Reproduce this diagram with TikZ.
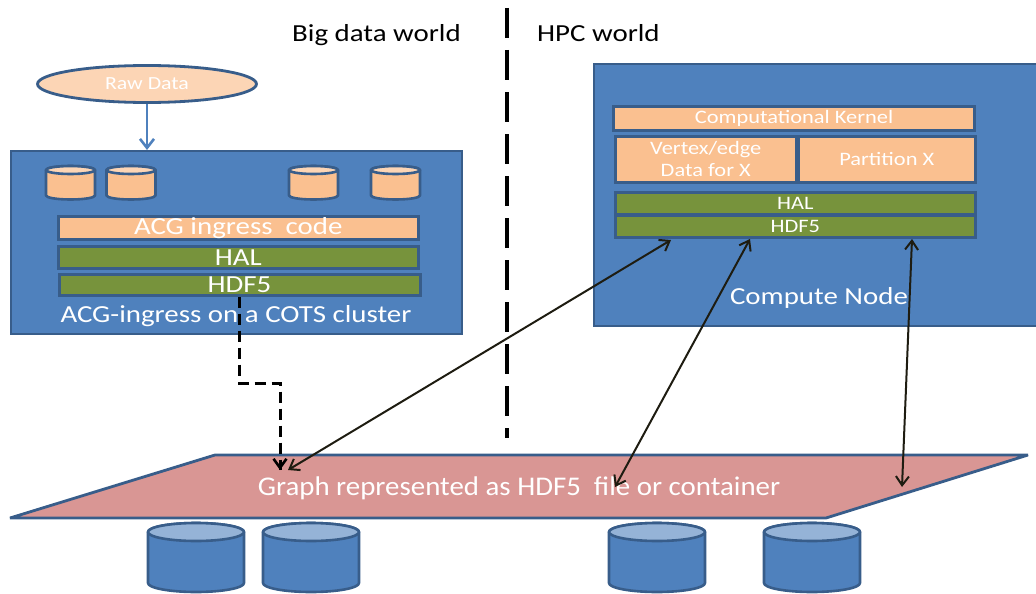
\documentclass[tikz,border=0pt]{standalone}
\usepackage{fontspec}
\setmainfont{Carlito}
\newfontfamily\wide[FakeStretch=1.18]{Carlito}
\newfontfamily\planefont[FakeStretch=1.07]{Carlito}
\usetikzlibrary{shapes.geometric,arrows.meta}
\definecolor{bluefill}{HTML}{4F81BD}
\definecolor{blueline}{HTML}{385D8A}
\definecolor{peach}{HTML}{FAC090}
\definecolor{peachlt}{HTML}{FCD5B5}
\definecolor{oliv}{HTML}{77933C}
\definecolor{rosefill}{HTML}{D99694}
\definecolor{cyltop}{HTML}{95B3D7}
\definecolor{darkline}{HTML}{1E1C11}
\tikzset{
  bigbox/.style={draw=blueline,line width=2.4pt,fill=bluefill,rectangle,anchor=north west,inner sep=0pt},
  bar/.style={draw=blueline,line width=3pt,rectangle,anchor=north west,inner sep=0pt,text=white,align=center,font=\wide\fontsize{#1}{#1}\selectfont},
  peachbar/.style={bar=#1,fill=peach},
  greenbar/.style={bar=#1,fill=oliv},
  lbl/.style={text=white,inner sep=0pt,font=\wide\fontsize{#1}{#1}\selectfont},
  drumline/.style={draw=blueline,line width=2.6pt,line join=round},
  link/.style={darkline,line width=2pt,{Straight Barb[length=9pt,width=13pt]}-{Straight Barb[length=9pt,width=13pt]}},
  head/.style={inner sep=0pt,text=black,font=\wide\fontsize{24.5}{24.5}\selectfont}
}
% \drum{name}{centre x}{top y}{half width}{height}{end half height}{body colour}{end colour}
\newcommand{\drum}[8]{%
  \coordinate (#1) at (#2,#3);
  \draw[drumline,fill=#7] (#2-#4,#3+#6) -- (#2-#4,#3+#5-#6)
    arc[start angle=180,end angle=360,x radius=#4pt,y radius=#6pt]
    -- (#2+#4,#3+#6) arc[start angle=0,end angle=180,x radius=#4pt,y radius=#6pt] -- cycle;
  \draw[drumline,fill=#8] (#2,#3+#6) ellipse[x radius=#4pt,y radius=#6pt];
}
\begin{document}
\begin{tikzpicture}[x=1pt,y=-1pt]
\useasboundingbox (0,0) rectangle (1036,594);
% headings
\node[head,anchor=base west] (bigdata) at (292,42) {Big data world};
\node[head,anchor=base west] (hpc) at (537,42) {HPC world};
% divider
\coordinate (divtop) at (507,8);
\coordinate (divbot) at (507,438);
\draw[black,line width=4pt,dash pattern=on 30pt off 12pt] (divtop) -- (divbot);
% left cluster
\node[bigbox,minimum width=451pt,minimum height=183pt] (left) at (10,150) {};
\node[ellipse,draw=blueline,line width=2.8pt,fill=peachlt,minimum width=219pt,minimum height=37pt,inner sep=0pt,text=white,font=\wide\fontsize{18.5}{18.5}\selectfont] (raw) at (147,84) {Raw Data};
\draw[-{Straight Barb[length=9pt,width=14pt]},bluefill,line width=2.6pt] (raw.south) -- (raw.south |- left.north);
\drum{c1}{70.5}{166}{24.5}{33.5}{4}{peach}{peachlt}
\drum{c2}{131}{166}{24.5}{33.5}{4}{peach}{peachlt}
\drum{c3}{313.5}{166}{24.5}{33.5}{4}{peach}{peachlt}
\drum{c4}{395.5}{166}{24.5}{33.5}{4}{peach}{peachlt}
\node[peachbar=24.5,minimum width=360.5pt,minimum height=22.5pt] (acg) at (56.5,215) {ACG ingress\ \ code};
\node[greenbar=24.5,minimum width=360.5pt,minimum height=21.5pt] (halL) at (56.5,245) {HAL};
\node[greenbar=24.5,minimum width=361pt,minimum height=20.5pt] (hdfL) at (57.5,273) {HDF5};
\node[lbl=24.5] (cots) at (236,316.5) {ACG-ingress on a COTS cluster};
% compute node
\node[bigbox,minimum width=450pt,minimum height=262pt] (compute) at (592.5,63) {};
\node[peachbar=19,minimum width=361pt,minimum height=23.5pt] (kernel) at (612,105) {Computational Kernel};
\node[peachbar=19,minimum width=180.5pt,minimum height=45.5pt] (vertex) at (614,135) {Vertex/edge\\[3pt]Data for X};
\node[peachbar=19,minimum width=176.5pt,minimum height=45.5pt] (part) at (797,135) {Partition X};
\node[greenbar=19,minimum width=360.5pt,minimum height=21.5pt] (halR) at (613.5,191) {HAL};
\node[greenbar=19,minimum width=360.5pt,minimum height=21.5pt] (hdfR) at (613.5,214) {HDF5};
\node[lbl=24.5] (cn) at (819,298) {Compute Node};
% graph plane
\draw[draw=blueline,line width=2.8pt,fill=rosefill,line join=bevel] (215,455) -- (1028,455) -- (826,518) -- (10,518) -- cycle;
\node[text=white,inner sep=0pt,font=\planefont\fontsize{27}{27}\selectfont] (graph) at (519,488.5) {Graph represented as HDF5\ \ file or container};
% disks
\drum{d1}{196}{523}{48}{69}{9}{bluefill}{cyltop}
\drum{d2}{311}{523}{48}{69}{9}{bluefill}{cyltop}
\drum{d3}{657}{523}{48}{69}{9}{bluefill}{cyltop}
\drum{d4}{812}{523}{48}{69}{9}{bluefill}{cyltop}
% connectors
\coordinate (p1) at (288,470); \coordinate (h1) at (671,240);
\coordinate (p2) at (615,487); \coordinate (h2) at (750,239);
\coordinate (p3) at (902,487); \coordinate (h3) at (912,239);
\coordinate (dA) at (239,383); \coordinate (dB) at (280,383); \coordinate (dC) at (280,470);
\draw[link] (p1) -- (h1);
\draw[link] (p2) -- (h2);
\draw[link] (p3) -- (h3);
\draw[black,line width=3pt,dash pattern=on 11pt off 6pt] (hdfL.south -| dA) -- (dA) -- (dB) -- (dC);
\draw[black,line width=2.6pt,-{Straight Barb[length=9pt,width=13pt]}] (280,462) -- (dC);
\end{tikzpicture}
\end{document}
